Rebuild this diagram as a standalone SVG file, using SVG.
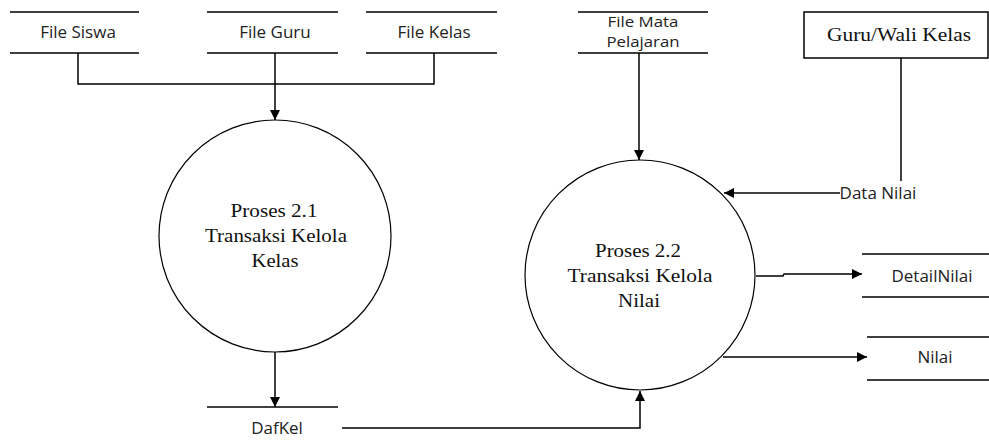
<svg xmlns="http://www.w3.org/2000/svg" width="989" height="446" viewBox="0 0 989 446">
<style>
.ln{stroke:#000;stroke-width:1.5;fill:none}
.c{stroke:#000;stroke-width:1.2;fill:#fff}
.s{font-family:"Open Sans","Liberation Sans",sans-serif;font-size:17px;fill:#222;text-anchor:middle}
.sm{font-size:15px}
.t{font-family:"Liberation Serif","Times New Roman",serif;font-size:19px;fill:#111;text-anchor:middle}
</style>
<defs>
<marker id="ah" viewBox="0 0 10 10" refX="10" refY="5" markerWidth="10" markerHeight="10" markerUnits="userSpaceOnUse" orient="auto">
<path d="M0,0 L10,5 L0,10 z" fill="#000"/>
</marker>
</defs>
<rect width="989" height="446" fill="#fff"/>
<g id="connectors">
<path class="ln" d="M78,53 V84 H434 V53"/>
<path class="ln" d="M275,53 V120" marker-end="url(#ah)"/>
<path class="ln" d="M275,352 V407" marker-end="url(#ah)"/>
<path class="ln" d="M342,428 H640 V391" marker-end="url(#ah)"/>
<path class="ln" d="M639,53 V160" marker-end="url(#ah)"/>
<path class="ln" d="M901,58 V181"/>
<path class="ln" d="M840,193 H724" marker-end="url(#ah)"/>
<path class="ln" d="M756,276 H783 L784,274 H862" marker-end="url(#ah)"/>
<path class="ln" d="M723,357 H867" marker-end="url(#ah)"/>
</g>
<g id="file-siswa">
<path class="ln" d="M10,12 H139 M10,53 H139"/>
<text class="s" x="78" y="38">File Siswa</text>
</g>
<g id="file-guru">
<path class="ln" d="M207,12 H338 M207,53 H338"/>
<text class="s" x="275" y="38">File Guru</text>
</g>
<g id="file-kelas">
<path class="ln" d="M366,12 H497 M366,53 H497"/>
<text class="s" x="434" y="38">File Kelas</text>
</g>
<g id="file-mapel">
<path class="ln" d="M578,12 H708 M578,53 H708"/>
<text class="s sm" x="643" y="27" textLength="71" lengthAdjust="spacingAndGlyphs">File Mata</text>
<text class="s sm" x="643" y="47" textLength="73" lengthAdjust="spacingAndGlyphs">Pelajaran</text>
</g>
<g id="guru-wali">
<rect class="ln" x="804" y="12" width="184" height="46"/>
<text class="t" x="899" y="41" textLength="144" lengthAdjust="spacingAndGlyphs">Guru/Wali Kelas</text>
</g>
<g id="proses-21">
<circle class="c" cx="275" cy="236" r="116"/>
<text class="t" x="274" y="217" textLength="87" lengthAdjust="spacingAndGlyphs">Proses 2.1</text>
<text class="t" x="276" y="242" textLength="142" lengthAdjust="spacingAndGlyphs">Transaksi Kelola</text>
<text class="t" x="275" y="267" textLength="47" lengthAdjust="spacingAndGlyphs">Kelas</text>
</g>
<g id="proses-22">
<circle class="c" cx="640" cy="275" r="115"/>
<text class="t" x="638" y="257" textLength="86" lengthAdjust="spacingAndGlyphs">Proses 2.2</text>
<text class="t" x="640" y="282" textLength="145" lengthAdjust="spacingAndGlyphs">Transaksi Kelola</text>
<text class="t" x="639" y="307" textLength="42" lengthAdjust="spacingAndGlyphs">Nilai</text>
</g>
<g id="dafkel">
<path class="ln" d="M207,407 H338"/>
<text class="s" x="277" y="434">DafKel</text>
</g>
<g id="data-nilai-label">
<text class="s" x="878" y="199">Data Nilai</text>
</g>
<g id="detail-nilai">
<path class="ln" d="M862,254 H989 M862,297 H989"/>
<text class="s" x="932" y="282">DetailNilai</text>
</g>
<g id="nilai">
<path class="ln" d="M867,337 H989 M867,380 H989"/>
<text class="s" x="935" y="363">Nilai</text>
</g>
</svg>
